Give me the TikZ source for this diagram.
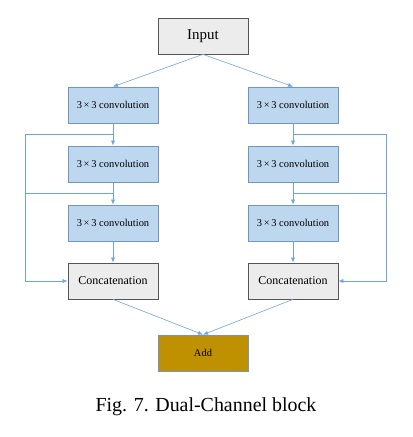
\documentclass[tikz,border=0pt]{standalone}
\usepackage{fontspec}
\setmainfont{Liberation Serif}
\usetikzlibrary{arrows.meta}

\definecolor{convfill}{RGB}{189,215,238}
\definecolor{convline}{RGB}{112,150,196}
\definecolor{flowline}{RGB}{110,165,222}
\definecolor{catfill}{RGB}{236,236,236}
\definecolor{catline}{RGB}{85,85,85}
\definecolor{addfill}{RGB}{191,144,0}

\tikzset{
  box/.style={minimum width=90bp,minimum height=36bp,inner sep=0pt,line width=0.7pt},
  conv/.style={box,draw=convline,fill=convfill,font=\fontsize{10.5}{12}\selectfont},
  cat/.style={box,draw=catline,fill=catfill,font=\fontsize{12}{14}\selectfont},
  flow/.style={draw=flowline,line width=0.6pt,-{Latex[length=5pt,width=4pt]}},
  bare/.style={draw=flowline,line width=0.6pt},
}

\begin{document}
\begin{tikzpicture}[x=1bp,y=-1bp]
  \useasboundingbox (0,0) rectangle (412,437);
  \node[cat,font=\fontsize{15}{17}\selectfont] (in) at (203,36) {Input};
  % left channel
  \node[conv] (l1) at (113,105) {3\,×\,3 convolution};
  \node[conv] (l2) at (113,164) {3\,×\,3 convolution};
  \node[conv] (l3) at (113,223) {3\,×\,3 convolution};
  \node[cat] (lcat) at (113,281) {Concatenation};
  % right channel
  \node[conv] (r1) at (293,105) {3\,×\,3 convolution};
  \node[conv] (r2) at (293,164) {3\,×\,3 convolution};
  \node[conv] (r3) at (293,223) {3\,×\,3 convolution};
  \node[cat] (rcat) at (293,281) {Concatenation};
  \node[box,draw=convline,fill=addfill,font=\fontsize{10.5}{12}\selectfont] (add) at (203,353) {Add};
  \node[font=\fontsize{20}{24}\selectfont] (cap) at (206,407) {Fig. 7. Dual-Channel block};

  \coordinate (lta) at (113,134);
  \coordinate (ltb) at (113,193);
  \coordinate (lside) at (25,281);
  \coordinate (rta) at (293,134);
  \coordinate (rtb) at (293,193);
  \coordinate (rside) at (386,281);

  \draw[flow] (in.south) -- (l1.north);
  \draw[flow] (in.south) -- (r1.north);
  \draw[flow] (l1) -- (l2);
  \draw[flow] (l2) -- (l3);
  \draw[flow] (l3) -- (lcat);
  \draw[flow] (r1) -- (r2);
  \draw[flow] (r2) -- (r3);
  \draw[flow] (r3) -- (rcat);
  \draw[flow] (lta) -| (lside) -- (lcat.west);
  \draw[bare] (ltb) -- (ltb -| lside);
  \draw[flow] (rta) -| (rside) -- (rcat.east);
  \draw[bare] (rtb) -- (rtb -| rside);
  \draw[flow] (lcat.south) -- (add.north);
  \draw[flow] (rcat.south) -- (add.north);
\end{tikzpicture}
\end{document}
